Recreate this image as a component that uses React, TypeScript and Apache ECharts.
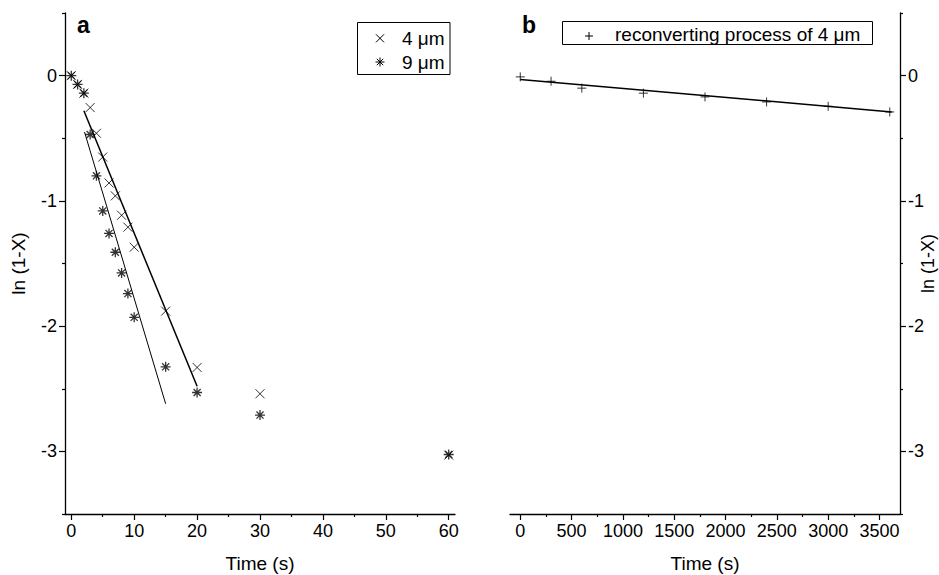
import React, { useEffect, useRef } from "react";
import * as echarts from "echarts";

// ---- Panel a data ----
const timeA4 = [0, 1, 2, 3, 4, 5, 6, 7, 8, 9, 10, 15, 20, 30, 60];
const lnA4 = [0, -0.07, -0.14, -0.255, -0.46, -0.65, -0.857, -0.96, -1.115, -1.21, -1.37, -1.88, -2.33, -2.54, -3.03];
const timeA9 = [0, 1, 2, 3, 4, 5, 6, 7, 8, 9, 10, 15, 20, 30, 60];
const lnA9 = [0, -0.07, -0.14, -0.47, -0.8, -1.08, -1.26, -1.41, -1.575, -1.74, -1.93, -2.325, -2.53, -2.71, -3.025];
const fit4Time = [2, 20];
const fit4Ln = [-0.28, -2.48];
const fit9Time = [2.1, 15];
const fit9Ln = [-0.45, -2.62];

// ---- Panel b data ----
const timeB = [0, 300, 600, 1200, 1800, 2400, 3000, 3600];
const lnB = [-0.01, -0.045, -0.1, -0.14, -0.17, -0.21, -0.245, -0.29];
const fitBTime = [0, 3620];
const fitBLn = [-0.03, -0.29];

// ---- Ticks ----
const xMajorA = [0, 10, 20, 30, 40, 50, 60];
const xMinorA = [5, 15, 25, 35, 45, 55];
const xMajorB = [0, 500, 1000, 1500, 2000, 2500, 3000, 3500];
const xMinorB = [250, 750, 1250, 1750, 2250, 2750, 3250];
const yMajor = [0, -1, -2, -3];
const yMinor = [0.5, -0.5, -1.5, -2.5, -3.5];

const FONT = "Liberation Sans, Arial, Helvetica, sans-serif";
const BLACK = "#000";

const CROSS = "path://M0,0L10,10M10,0L0,10";
const STAR =
  "path://M5,0L5,10M0,5L10,5M1.46,1.46L8.54,8.54M8.54,1.46L1.46,8.54";
const PLUS = "path://M5,0L5,10M0,5L10,5";

const zip = (xs: number[], ys: number[]) => xs.map((x, i) => [x, ys[i]]);
const plain = (v: number) => String(v);

export default function App() {
  const ref = useRef<HTMLDivElement>(null);

  useEffect(() => {
    if (!ref.current) return;
    const chart = echarts.init(ref.current, undefined, { renderer: "svg" });

    const axisLine = { show: true, onZero: false, lineStyle: { color: BLACK, width: 1.3 } };
    const noLine = { show: false, onZero: false };
    const labelStyle = { color: BLACK, fontSize: 18, fontFamily: FONT };
    const nameStyle = { color: BLACK, fontSize: 19, fontFamily: FONT };

    const majorX = (grid: number, min: number, max: number, ticks: number[]) => ({
      gridIndex: grid,
      type: "value",
      min,
      max,
      position: "bottom",
      axisLine,
      axisTick: { show: true, inside: false, length: 6, customValues: ticks, lineStyle: { color: BLACK, width: 1.2 } },
      axisLabel: { show: true, customValues: ticks, margin: 8, formatter: plain, ...labelStyle },
      splitLine: { show: false },
      name: "Time (s)",
      nameLocation: "middle",
      nameGap: 40,
      nameMoveOverlap: false,
      nameTextStyle: nameStyle,
    });
    const minorX = (grid: number, min: number, max: number, ticks: number[]) => ({
      gridIndex: grid,
      type: "value",
      min,
      max,
      position: "bottom",
      axisLine: noLine,
      axisTick: { show: true, inside: false, length: 3, customValues: ticks, lineStyle: { color: BLACK, width: 1.2 } },
      axisLabel: { show: false },
      splitLine: { show: false },
    });
    const majorY = (grid: number, pos: string, gap: number, nameSize: number) => ({
      gridIndex: grid,
      type: "value",
      min: -3.5,
      max: 0.5,
      position: pos,
      axisLine,
      axisTick: { show: true, inside: false, length: 6, customValues: yMajor, lineStyle: { color: BLACK, width: 1.2 } },
      axisLabel: { show: true, customValues: yMajor, margin: 8, formatter: plain, ...labelStyle },
      splitLine: { show: false },
      name: "ln (1-X)",
      nameLocation: "middle",
      nameRotate: 90,
      nameGap: gap,
      nameMoveOverlap: false,
      nameTextStyle: { ...nameStyle, fontSize: nameSize },
    });
    const minorY = (grid: number, pos: string) => ({
      gridIndex: grid,
      type: "value",
      min: -3.5,
      max: 0.5,
      position: pos,
      axisLine: noLine,
      axisTick: { show: true, inside: false, length: 3, customValues: yMinor, lineStyle: { color: BLACK, width: 1.2 } },
      axisLabel: { show: false },
      splitLine: { show: false },
    });

    const scatter = (name: string, xi: number, yi: number, symbol: string, size: number, bw: number, data: number[][]) => ({
      name,
      type: "scatter",
      xAxisIndex: xi,
      yAxisIndex: yi,
      symbol,
      symbolSize: size,
      symbolKeepAspect: true,
      itemStyle: { color: "transparent", borderColor: BLACK, borderWidth: bw },
      emphasis: { disabled: true },
      silent: true,
      data,
      z: 3,
    });
    const fit = (name: string, xi: number, yi: number, width: number, data: number[][]) => ({
      name,
      type: "line",
      xAxisIndex: xi,
      yAxisIndex: yi,
      showSymbol: false,
      symbol: "none",
      lineStyle: { color: BLACK, width },
      emphasis: { disabled: true },
      silent: true,
      data,
      z: 2,
    });

    const line = (x1: number, y1: number, x2: number, y2: number) => ({
      type: "line",
      shape: { x1, y1, x2, y2 },
      style: { stroke: BLACK, lineWidth: 1 },
      silent: true,
    });
    const txt = (text: string, x: number, y: number, size: number, weight = "normal") => ({
      type: "text",
      x,
      y,
      silent: true,
      style: {
        text,
        fill: BLACK,
        fontSize: size,
        fontFamily: FONT,
        fontWeight: weight,
        verticalAlign: "middle",
        align: "left",
      },
    });

    chart.setOption({
      animation: false,
      backgroundColor: "#fff",
      grid: [
        { left: 65, top: 13, width: 390, height: 501, containLabel: false, outerBoundsMode: "none" },
        { left: 510, top: 13, width: 390, height: 501, containLabel: false, outerBoundsMode: "none" },
      ],
      xAxis: [
        majorX(0, -1, 61, xMajorA),
        minorX(0, -1, 61, xMinorA),
        majorX(1, -100, 3700, xMajorB),
        minorX(1, -100, 3700, xMinorB),
      ],
      yAxis: [majorY(0, "left", 37, 19), minorY(0, "left"), majorY(1, "right", 19, 18), minorY(1, "right")],
      series: [
        fit("fit 4 μm", 0, 0, 1.5, zip(fit4Time, fit4Ln)),
        fit("fit 9 μm", 0, 0, 1, zip(fit9Time, fit9Ln)),
        scatter("4 μm", 0, 0, CROSS, 9, 1, zip(timeA4, lnA4)),
        scatter("9 μm", 0, 0, STAR, 10, 1.3, zip(timeA9, lnA9)),
        fit("fit reconverting", 2, 2, 1.5, zip(fitBTime, fitBLn)),
        scatter("reconverting process of 4 μm", 2, 2, PLUS, 9, 1, zip(timeB, lnB)),
      ],
      graphic: [
        txt("a", 77, 25, 23, "bold"),
        txt("b", 522, 25, 23, "bold"),
        // legend a
        {
          type: "rect",
          shape: { x: 357.5, y: 22.5, width: 92.5, height: 52 },
          style: { fill: "#fff", stroke: BLACK, lineWidth: 1 },
          silent: true,
        },
        line(376, 34.3, 384, 42.3),
        line(384, 34.3, 376, 42.3),
        line(380, 57.5, 380, 66.5),
        line(375.5, 62, 384.5, 62),
        line(376.8, 58.8, 383.2, 65.2),
        line(383.2, 58.8, 376.8, 65.2),
        txt("4 μm", 402, 38, 19),
        txt("9 μm", 402, 62, 19),
        // legend b
        {
          type: "rect",
          shape: { x: 562.5, y: 21.5, width: 310, height: 23 },
          style: { fill: "#fff", stroke: BLACK, lineWidth: 1 },
          silent: true,
        },
        line(585, 36, 593, 36),
        line(589, 32, 589, 40),
        txt("reconverting process of 4 μm", 615, 34.5, 19),
      ],
    });

    return () => chart.dispose();
  }, []);

  return (
    <div
      ref={ref}
      style={{ position: "fixed", left: 0, top: 0, width: 939, height: 575, background: "#fff" }}
    />
  );
}
